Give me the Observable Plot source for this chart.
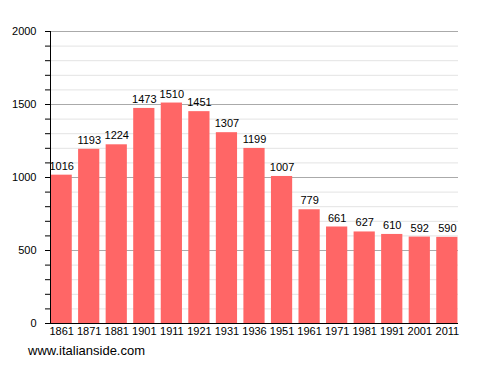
<!DOCTYPE html>
<html>
<head>
<meta charset="utf-8">
<script src="https://cdn.jsdelivr.net/npm/d3@7"></script>
<script src="https://cdn.jsdelivr.net/npm/@observablehq/plot@0.6"></script>
<style>
  html, body { margin: 0; padding: 0; background: white; }
  #wrap { position: relative; width: 488px; height: 373px; }
  #caption { position: absolute; left: 28px; top: 343px; font: 13px "Liberation Sans", Arial, sans-serif; color: #000; }
</style>
</head>
<body>
<div id="wrap"><div id="chart"></div><div id="caption">www.italianside.com</div></div>
<script>
const years = ["1861","1871","1881","1901","1911","1921","1931","1936","1951","1961","1971","1981","1991","2001","2011"];
const population = [1016,1193,1224,1473,1510,1451,1307,1199,1007,779,661,627,610,592,590];
const majorTicks = [0,500,1000,1500,2000];
const minorTicks = d3.range(0, 2001, 100).filter(v => v % 500 !== 0);

const data = years.map((y, i) => ({year: y, value: population[i]}));

const chart = Plot.plot({
  width: 488,
  height: 340,
  marginLeft: 50,
  marginRight: 30,
  marginTop: 31,
  marginBottom: 17,
  style: {fontFamily: "'Liberation Sans', Arial, sans-serif", fontSize: "11px", background: "white", color: "black"},
  x: {domain: years, paddingInner: 0.23, paddingOuter: 0.02, round: false, label: null},
  y: {domain: [0, 2000], label: null},
  marks: [
    Plot.ruleY(minorTicks, {stroke: "#e3e3e3"}),
    Plot.ruleY(majorTicks, {stroke: "#aaaaaa"}),
    Plot.barY(data, {x: "year", y: "value", fill: "#ff6666"}),
    Plot.text(data, {x: "year", y: "value", text: d => String(d.value), dy: -9, fill: "black"}),
    Plot.axisX({tickSize: 0, tickPadding: 4, label: null}),
    Plot.axisY({ticks: majorTicks, tickSize: 5, tickPadding: 9, tickFormat: d => String(d), label: null}),
    Plot.axisY({ticks: minorTicks, tickSize: 5, tickFormat: () => "", label: null}),
    Plot.ruleY([0], {stroke: "black"}),
    Plot.frame({anchor: "left", stroke: "black"})
  ]
});
document.getElementById("chart").appendChild(chart);
</script>
</body>
</html>
